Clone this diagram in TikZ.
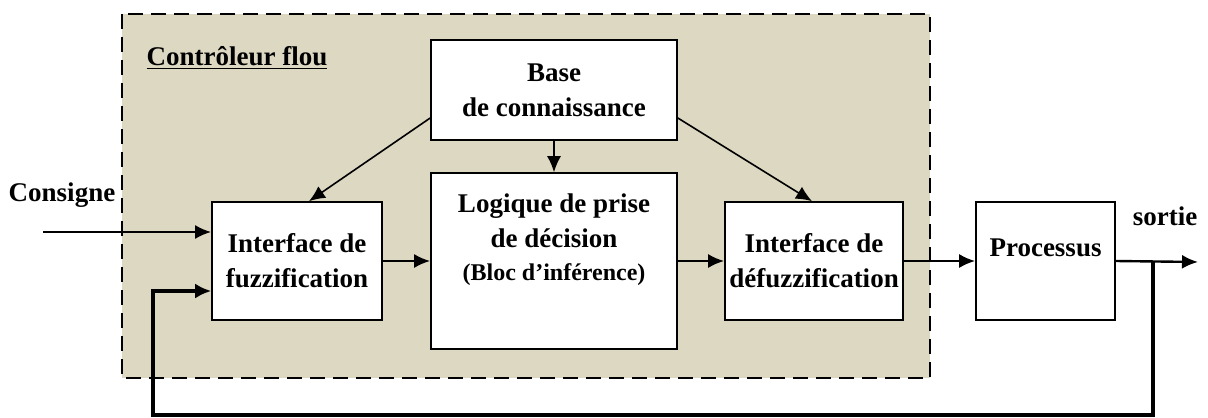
\documentclass[tikz,border=0pt]{standalone}
\usepackage{fontspec}
\setmainfont{Liberation Serif}
\usetikzlibrary{arrows.meta}

\begin{document}
\begin{tikzpicture}[x=0.5pt,y=-0.5pt,
  bloc/.style={draw=black,line width=0.8pt,fill=white,align=center,inner xsep=1pt,font=\bfseries\fontsize{13.5}{17.5}\selectfont},
  fleche/.style={line width=1.2pt,-{Latex[length=8pt,width=7pt]}},
  fine/.style={line width=0.8pt,-{Latex[length=8pt,width=7pt]}},
  retour/.style={line width=2pt,-{Latex[length=8pt,width=7.5pt]}},
  etiq/.style={font=\bfseries\fontsize{13.5}{15}\selectfont}]
\definecolor{fillColor}{RGB}{221,216,193}
\path[use as bounding box] (0,0) rectangle (1208,417);

% zone du controleur
\path[draw=black,line width=1.1pt,dash pattern=on 7.5pt off 4pt,fill=fillColor] (122,14) rectangle (930,378);
\node[etiq] (titre) at (237,58) {\underline{Contrôleur flou}};

% blocs
\node[bloc,minimum width=123pt,minimum height=50pt] (base) at (554,90) {Base\\de connaissance};
\node[bloc,minimum width=123pt,minimum height=88pt] (logique) at (554,261) {};
\node[align=center,font=\bfseries\fontsize{13.5}{17.5}\selectfont] (logtxt) at (554,240)
  {Logique de prise\\de décision\\[-1pt]{\fontsize{12}{14}\selectfont (Bloc d’inférence)}};
\node[bloc,minimum width=85pt,minimum height=59pt] (fuzz) at (297,261) {Interface de\\fuzzification};
\node[bloc,minimum width=89pt,minimum height=59pt] (defuzz) at (814,261) {Interface de\\défuzzification};
\node[bloc,minimum width=69.5pt,minimum height=59pt,text height=9pt,text depth=14pt] (proc) at (1045.5,261) {Processus};

% entrees / sorties
\node[etiq] (consigne) at (62,195) {Consigne};
\node[etiq] (sortie) at (1165,216) {sortie};
\coordinate (entree) at (43,232);
\coordinate (sortiefin) at (1198,262);
\coordinate (pique) at (1153,262);
\coordinate (bas) at (153,415);

% liaisons
\draw[fleche] (entree) -- ([yshift=14.5pt]fuzz.west);
\draw[fleche] (fuzz.east) -- (logique.west);
\draw[fleche] (logique.east) -- (defuzz.west);
\draw[fleche] (defuzz.east) -- (proc.west);
\draw[fleche] (proc.east) -- (sortiefin);
\draw[fine] (base.south) -- (logique.north);
\draw[fine] ([yshift=-14pt]base.west) -- ([xshift=6pt]fuzz.north);
\draw[fine] ([yshift=-14pt]base.east) -- ([xshift=-1pt]defuzz.north);
\draw[retour] (pique) |- (bas) |- ([yshift=-15pt]fuzz.west);
\end{tikzpicture}
\end{document}
